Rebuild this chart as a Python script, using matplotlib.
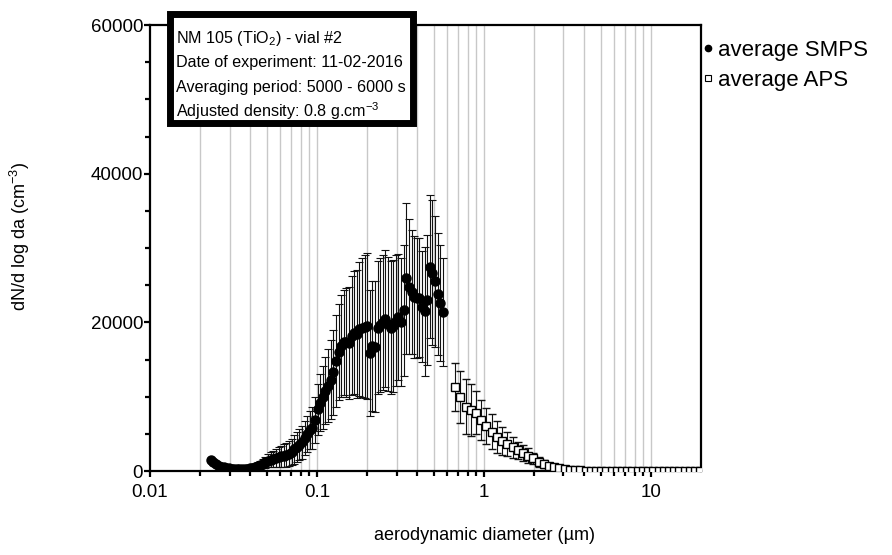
import matplotlib

matplotlib.use("Agg")
import matplotlib.pyplot as plt
from matplotlib.lines import Line2D
from matplotlib.patches import Rectangle
from matplotlib.ticker import FixedLocator, FuncFormatter, MultipleLocator

plt.rcParams["font.family"] = ["Liberation Sans", "DejaVu Sans"]
plt.rcParams["mathtext.fontset"] = "custom"
plt.rcParams["mathtext.rm"] = "Liberation Sans"
plt.rcParams["mathtext.it"] = "Liberation Sans:italic"
plt.rcParams["mathtext.bf"] = "Liberation Sans:bold"

# SMPS: aerodynamic diameter (um), mean dN/dlogda and std (cm-3)
smps_d = [
    0.0231, 0.02395, 0.02482, 0.02573, 0.02668, 0.02765, 0.02867, 0.02972,
    0.03081, 0.03193, 0.0331, 0.03432, 0.03557, 0.03688, 0.03823, 0.03963,
    0.04108, 0.04259, 0.04415, 0.04577, 0.04744, 0.04918, 0.05098, 0.05285,
    0.05479, 0.0568, 0.05888, 0.06104, 0.06327, 0.06559, 0.06799, 0.07049,
    0.07307, 0.07573, 0.07851, 0.08139, 0.08437, 0.08746, 0.09067, 0.09399,
    0.09743, 0.101, 0.1047, 0.1085, 0.1125, 0.1166, 0.1209, 0.1253,
    0.1299, 0.1347, 0.1396, 0.1447, 0.15, 0.1555, 0.1612, 0.1671,
    0.1732, 0.1796, 0.1862, 0.193, 0.2001, 0.2074, 0.215, 0.2229,
    0.231, 0.2395, 0.2482, 0.2573, 0.2668, 0.2765, 0.2867, 0.2972,
    0.3081, 0.3193, 0.331, 0.3432, 0.3557, 0.3688, 0.3823, 0.3963,
    0.4108, 0.4259, 0.4415, 0.4577, 0.4744, 0.4918, 0.5098, 0.5285,
    0.5479, 0.568,
]
smps_n = [
    1500, 1150, 900, 720, 580, 480, 420, 370, 330, 300, 290, 280, 290, 300,
    330, 380, 460, 560, 700, 850, 1000, 1200, 1380, 1520, 1650, 1780, 1900,
    2000, 2080, 2180, 2320, 2550, 2900, 3250, 3550, 3850, 4400, 5000, 5500,
    5800, 6900, 8300, 9200, 9900, 10800, 11500, 12300, 13300, 14800, 16000,
    16800, 17300, 17300, 17200, 18200, 18600, 18400, 19100, 19300, 19400,
    19500, 15900, 16800, 16700, 19300, 19600, 20000, 20500, 19800, 19300,
    19500, 20200, 20700, 20100, 21600, 25900, 24800, 24100, 23400, 23300,
    23300, 22100, 21500, 23000, 27500, 26700, 25500, 23800, 22600, 21400,
]
smps_sd = [
    150, 150, 150, 150, 150, 150, 150, 150, 150, 150, 150, 150, 150, 200,
    250, 300, 350, 400, 450, 550, 650, 750, 850, 1000, 1100, 1200, 1300,
    1400, 1500, 1600, 1700, 1800, 1900, 2000, 2100, 2200, 2300, 2400, 2600,
    2800, 3100, 3400, 3800, 4200, 4500, 4900, 5300, 5700, 6200, 6500,
    6900, 7100, 7300, 7500, 8000, 8300, 8600, 9000, 9300, 9600,
    9800, 8500, 8700, 8800, 9000, 9000, 9100, 9200, 9000, 8900,
    8900, 8800, 8500, 8600, 8800, 10200, 9100, 8300, 8200, 8100,
    8000, 7500, 8700, 8700, 9600, 9700, 8800, 8200, 7800, 7300,
]

# APS: aerodynamic diameter (um), mean dN/dlogda and std (cm-3)
aps_d = [
    0.673, 0.723, 0.777, 0.835, 0.898, 0.965, 1.037, 1.114, 1.197, 1.286,
    1.382, 1.486, 1.596, 1.715, 1.843, 1.981, 2.129, 2.288, 2.458, 2.642,
    2.839, 3.051, 3.278, 3.523, 3.786, 4.068, 4.371, 4.698, 5.048, 5.425,
    5.829, 6.264, 6.732, 7.234, 7.774, 8.354, 8.977, 9.647, 10.37, 11.14,
    11.97, 12.86, 13.82, 14.86, 15.96, 17.15, 18.43, 19.81,
]
aps_n = [
    11300, 9900, 8650, 8200, 7850, 6850, 6050, 5300, 4600, 4050,
    3650, 3200, 2800, 2400, 2050, 1700, 1250, 950, 700, 500,
    350, 250, 150, 110, 80, 60, 45, 35, 25, 20,
    15, 12, 10, 8, 6, 5, 4, 3, 3, 2,
    2, 2, 1, 1, 1, 1, 1, 1,
]
aps_sd = [
    3200, 3500, 3700, 3450, 2900, 2700, 2450, 2350, 2150, 1850,
    1650, 1400, 1150, 1100, 1000, 700, 700, 550, 400, 300,
    200, 150, 100, 70, 50, 40, 30, 20, 15, 12,
    10, 8, 6, 5, 4, 3, 3, 2, 2, 2,
    1, 1, 1, 1, 1, 1, 1, 1,
]

box_lines = [
    "NM 105 (TiO$_2$) - vial #2",
    "Date of experiment: 11-02-2016",
    "Averaging period: 5000 - 6000 s",
    "Adjusted density: 0.8 g.cm$^{-3}$",
]

FS = 13.5

fig = plt.figure(figsize=(8.92, 5.55), dpi=100)
ax = fig.add_axes([150 / 892, 1 - 471 / 555, (701 - 150) / 892, (471 - 25) / 555])

ax.errorbar(smps_d, smps_n, yerr=smps_sd, fmt="o", ms=6.5, mfc="black", mec="black",
            ecolor="#111111", elinewidth=0.8, capsize=2.8, capthick=0.8, zorder=3)
ax.errorbar(aps_d, aps_n, yerr=aps_sd, fmt="s", ms=5.8, mfc="white", mec="black", mew=1.0,
            ecolor="#111111", elinewidth=0.8, capsize=2.8, capthick=0.8, zorder=3)

ax.set_xscale("log")
ax.set_xlim(0.01, 20)
ax.set_ylim(0, 60000)
ax.xaxis.set_major_locator(FixedLocator([0.01, 0.1, 1, 10]))
ax.xaxis.set_major_formatter(FuncFormatter(lambda v, _: f"{v:g}"))
ax.xaxis.set_minor_locator(FixedLocator(
    [k * 10.0 ** e for e in (-2, -1, 0, 1) for k in range(2, 10) if k * 10.0 ** e < 20]))
ax.yaxis.set_major_locator(MultipleLocator(20000))
ax.yaxis.set_minor_locator(MultipleLocator(5000))

# light vertical grid on every log tick from 0.02 up
for v in [k * 10.0 ** e for e in (-2, -1, 0, 1) for k in range(1, 10)]:
    if 0.015 < v < 20:
        ax.axvline(v, color="#c8c8c8", lw=1.0, zorder=1)

for s in ax.spines.values():
    s.set_linewidth(1.6)
ax.tick_params(which="major", direction="out", length=4.5, width=1.6, labelsize=FS)
ax.tick_params(which="minor", direction="out", length=3.5, width=1.6)
ax.tick_params(axis="x", which="major", pad=5)
ax.tick_params(axis="y", which="major", pad=0.5)

fig.text(484 / 892, 1 - 535 / 555, "aerodynamic diameter (µm)", fontsize=13,
         ha="center", va="center")
fig.text(20 / 892, 1 - 236 / 555, "dN/d log da (cm$^{-3}$)", fontsize=13,
         ha="center", va="center", rotation=90)

# text box with thick border, overlapping the top of the plot
fig.add_artist(Rectangle((169.5 / 892, 1 - 122.5 / 555), 243 / 892, 109 / 555,
                         transform=fig.transFigure, facecolor="white",
                         edgecolor="black", lw=5, zorder=5))
for i, line in enumerate(box_lines):
    fig.text(176 / 892, 1 - (43 + 24.5 * i) / 555, line, fontsize=11.6,
             va="baseline", ha="left", zorder=6)

handles = [
    Line2D([], [], ls="none", marker="o", ms=4.5, mfc="black", mec="black"),
    Line2D([], [], ls="none", marker="s", ms=4.5, mfc="white", mec="black", mew=0.8),
]
fig.legend(handles, ["average SMPS", "average APS"], loc="upper left",
           bbox_to_anchor=(692 / 892, 1 - 31 / 555), frameon=False, fontsize=16,
           handlelength=0.6, handletextpad=0.15, labelspacing=0.4, borderaxespad=0)

fig.savefig("out.png", dpi=100)
